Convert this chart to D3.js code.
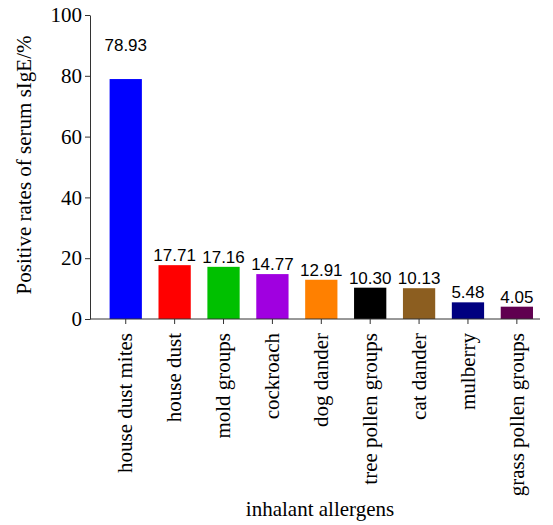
<!DOCTYPE html>
<html>
<head>
<meta charset="utf-8">
<script src="https://cdn.jsdelivr.net/npm/d3@7"></script>
<style>
  body { margin: 0; background: #fff; }
</style>
</head>
<body>
<div id="chart"></div>
<script>
// ── Data ──
const categories = ['house dust mites', 'house dust', 'mold groups', 'cockroach', 'dog dander',
    'tree pollen groups', 'cat dander', 'mulberry', 'grass pollen groups'];
const values = [78.93, 17.71, 17.16, 14.77, 12.91, 10.30, 10.13, 5.48, 4.05];
const barColors = ['#0000ff', '#ff0000', '#00c000', '#a000e0', '#ff8000',
    '#000000', '#8c5e20', '#000080', '#600050'];
const yTicks = [0, 20, 40, 60, 80, 100];

const width = 553, height = 525;
const serif = "'Liberation Serif', 'Times New Roman', serif";
const sans = "'Liberation Sans', Arial, sans-serif";

const svg = d3.select('#chart').append('svg')
    .attr('width', width).attr('height', height);

const x = d3.scaleBand()
    .domain(categories)
    .range([101.3, 541.3])
    .paddingInner(0.34)
    .paddingOuter(0.17);

const y = d3.scaleLinear().domain([0, 100]).range([319, 15]);

// Bars
svg.append('g').selectAll('rect')
    .data(values)
    .join('rect')
    .attr('x', (d, i) => x(categories[i]))
    .attr('y', d => y(d))
    .attr('width', x.bandwidth())
    .attr('height', d => y(0) - y(d))
    .attr('fill', (d, i) => barColors[i]);

// Value labels (the tallest one sits higher, as in the source)
svg.append('g').selectAll('text')
    .data(values)
    .join('text')
    .attr('x', (d, i) => x(categories[i]) + x.bandwidth() / 2)
    .attr('y', (d, i) => i === 0 ? y(d) - 28 : y(d) - 4)
    .attr('text-anchor', 'middle')
    .attr('font-family', sans)
    .attr('font-size', '17px')
    .attr('fill', '#000')
    .text(d => d.toFixed(2));

// Y axis
const yAxis = svg.append('g')
    .attr('transform', 'translate(90,0)')
    .call(d3.axisLeft(y).tickValues(yTicks).tickSize(5).tickSizeOuter(0).tickPadding(3));
yAxis.select('.domain').attr('stroke', '#333');
yAxis.selectAll('line').attr('stroke', '#333');
yAxis.selectAll('text')
    .attr('font-family', serif).attr('font-size', '21px').attr('fill', '#000');

// X axis
const xAxis = svg.append('g')
    .attr('transform', `translate(0,${y(0)})`)
    .call(d3.axisBottom(x).tickSize(5).tickSizeOuter(0));
xAxis.select('.domain').remove();
xAxis.selectAll('line').attr('stroke', '#333');
xAxis.selectAll('text')
    .attr('font-family', serif).attr('font-size', '21px').attr('fill', '#000')
    .attr('text-anchor', 'end')
    .attr('transform', 'rotate(-90)')
    .attr('x', -14).attr('y', 0).attr('dy', '0.32em');
svg.append('line')
    .attr('x1', 90).attr('x2', 540)
    .attr('y1', y(0)).attr('y2', y(0))
    .attr('stroke', '#333');

// Axis titles
svg.append('text')
    .attr('transform', 'translate(31,165) rotate(-90)')
    .attr('text-anchor', 'middle')
    .attr('font-family', serif).attr('font-size', '21px')
    .text('Positive rates of serum sIgE/%');

svg.append('text')
    .attr('x', 320).attr('y', 516)
    .attr('text-anchor', 'middle')
    .attr('font-family', serif).attr('font-size', '21px')
    .text('inhalant allergens');
</script>
</body>
</html>
